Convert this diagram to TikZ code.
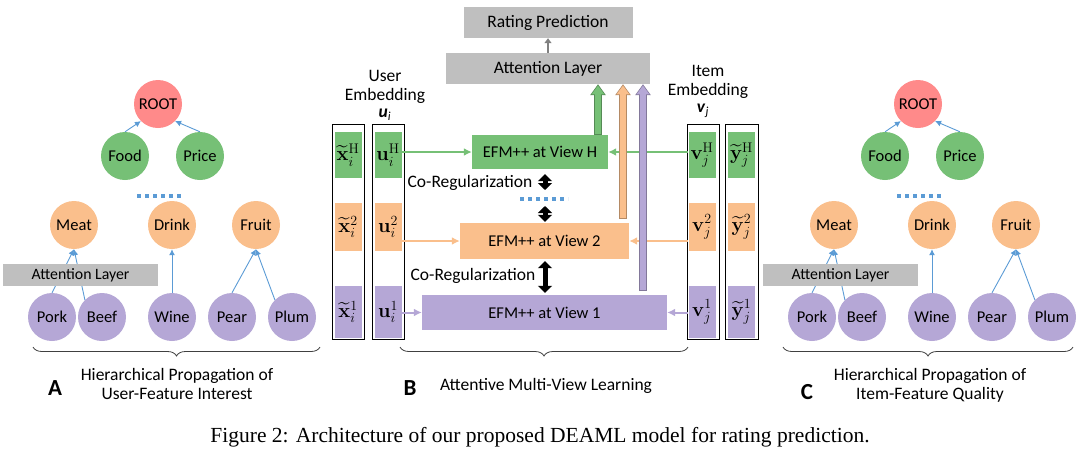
\RequirePackage{fix-cm}
\documentclass[tikz,border=0pt]{standalone}
\usepackage{amsmath}
\usepackage[no-math]{fontspec}
\setmainfont{Carlito}
\newfontfamily\captionfont{Liberation Serif}
\usetikzlibrary{arrows.meta,decorations.pathreplacing,positioning}

\definecolor{rootred}{RGB}{255,138,138}
\definecolor{viewgreen}{RGB}{118,192,118}
\definecolor{vieworange}{RGB}{250,191,140}
\definecolor{viewpurple}{RGB}{181,167,214}
\definecolor{layergray}{RGB}{191,191,191}
\definecolor{treeblue}{RGB}{91,155,213}

\newcommand{\fsz}[1]{\fontsize{#1}{#1}\selectfont}

\tikzset{
  feat/.style={circle, minimum size=48pt, inner sep=0pt, font=\fsz{16.5}},
  layer/.style={fill=layergray, inner sep=0pt, font=\fsz{17.5}},
  efm/.style={inner sep=0pt, font=\fsz{16.5}},
  column/.style={draw=black, line width=0.8pt, minimum width=32pt, minimum height=215pt, inner sep=0pt},
  cell/.style={minimum width=27pt, inner sep=0pt, font=\fsz{20}},
  tlink/.style={treeblue, line width=0.9pt, -{Latex[length=6pt,width=6pt]}},
  vlink/.style={#1, line width=2pt, -{Latex[length=8pt,width=8pt]}},
  fatup/.style={draw=#1!72!black, line width=8.4pt, -{Triangle[width=15pt,length=11pt]},
    postaction={draw=#1, line width=6.4pt, shorten <=1pt, shorten >=1.3pt, -{Triangle[width=12.2pt,length=8.8pt]}}},
  coreg/.style={black, line width=5pt, {Triangle[width=14pt,length=7pt]}-{Triangle[width=14pt,length=7pt]}},
  dotrow/.style={treeblue, line width=3.5pt, dash pattern=on 4pt off 4pt},
  lbrace/.style={decorate, decoration={brace, mirror, amplitude=9pt}, line width=0.8pt, black!75},
  label/.style={font=\fontsize{17.5}{19}\selectfont, align=center}
}

\begin{document}
\begin{tikzpicture}[x=1pt, y=-1pt]
\useasboundingbox (0,0) rectangle (1080,451);

% feature trees, left for users and right for items
\foreach \s/\dx in {L/0,R/760}{
  \begin{scope}[shift={(\dx,0)}]
    \node[feat, fill=rootred] (\s-root) at (158,104) {ROOT};
    \node[feat, fill=viewgreen] (\s-food) at (125,156) {Food};
    \node[feat, fill=viewgreen] (\s-price) at (200,156) {Price};
    \node[feat, fill=vieworange] (\s-meat) at (74,225) {Meat};
    \node[feat, fill=vieworange] (\s-drink) at (172,225) {Drink};
    \node[feat, fill=vieworange] (\s-fruit) at (256,225) {Fruit};
    \node[feat, fill=viewpurple] (\s-pork) at (52,317) {Pork};
    \node[feat, fill=viewpurple] (\s-beef) at (102,317) {Beef};
    \node[feat, fill=viewpurple] (\s-wine) at (172,317) {Wine};
    \node[feat, fill=viewpurple] (\s-pear) at (232,317) {Pear};
    \node[feat, fill=viewpurple] (\s-plum) at (292,317) {Plum};
    \draw[tlink] (\s-food.north) -- (\s-root.south west);
    \draw[tlink] (\s-price.north) -- (\s-root.south east);
    \draw[tlink] (\s-pork.north) -- (\s-meat.south);
    \draw[tlink] (\s-beef.north west) -- (\s-meat.south);
    \draw[tlink] (\s-wine.north) -- (\s-drink.south);
    \draw[tlink] (\s-pear.north) -- (\s-fruit.south);
    \draw[tlink] (\s-plum.north west) -- (\s-fruit.south);
    \draw[dotrow] (137,196) -- (183,196);
    \node[layer, font=\fsz{15.8}, minimum width=155pt, minimum height=22pt] (\s-att) at (80.5,275) {Attention Layer};
  \end{scope}
}

% multi-view part
\node[layer, minimum width=169pt, minimum height=31pt] (rating) at (548,22.5) {Rating Prediction};
\node[layer, minimum width=204pt, minimum height=31pt] (att) at (548,68.5) {Attention Layer};
\draw[gray, line width=1.8pt, -{Triangle[width=7pt,length=5pt]}] (att) -- (rating);

\foreach \v/\vy/\vh/\vc in {H/155/46/viewgreen, 2/227/48/vieworange, 1/312/52/viewpurple}{
  \node[cell, fill=\vc, minimum height=\vh pt] (x\v) at (348,\vy) {$\widetilde{\mathbf{x}}^{\mathrm{\v}}_{i}$};
  \node[cell, fill=\vc, minimum height=\vh pt] (u\v) at (388,\vy) {$\mathbf{u}^{\mathrm{\v}}_{i}$};
  \node[cell, fill=\vc, minimum height=\vh pt] (v\v) at (702,\vy) {$\mathbf{v}^{\mathrm{\v}}_{j}$};
  \node[cell, fill=\vc, minimum height=\vh pt] (y\v) at (741.5,\vy) {$\widetilde{\mathbf{y}}^{\mathrm{\v}}_{j}$};
}
\node[column] (xcol) at (348,231.5) {};
\node[column] (ucol) at (388,231.5) {};
\node[column] (vcol) at (703,231.5) {};
\node[column, minimum width=33pt] (ycol) at (741.5,231.5) {};

\node[label] (uemb) at (385,87) {User\\Embedding};
\node[label] (ulab) at (385,115) {\textbf{\textit{u}}\textsubscript{\textit{i}}};
\node[label] (vemb) at (708,82) {Item\\Embedding};
\node[label] (vlab) at (703,111) {\textbf{\textit{v}}\textsubscript{\textit{j}}};

\node[efm, fill=viewgreen, minimum width=136pt, minimum height=34pt] (efmH) at (540,152) {EFM++ at View H};
\node[efm, fill=vieworange, minimum width=169pt, minimum height=36pt] (efm2) at (544.5,241) {EFM++ at View 2};
\node[efm, fill=viewpurple, minimum width=245pt, minimum height=35pt] (efm1) at (544.5,312.5) {EFM++ at View 1};

\draw[vlink=viewgreen] (uH.east |- efmH) -- (efmH);
\draw[vlink=viewgreen] (vH.west |- efmH) -- (efmH);
\draw[vlink=vieworange] (u2.east |- efm2) -- (efm2);
\draw[vlink=vieworange] (v2.west |- efm2) -- (efm2);
\draw[vlink=viewpurple] (u1.east |- efm1) -- (efm1);
\draw[vlink=viewpurple] (v1.west |- efm1) -- (efm1);

% co-regularization between views
\coordinate (cx) at (545,0);
\coordinate (mdots) at (545,199);
\draw[dotrow] (520,199) -- (568,199);
\draw[coreg, shorten <=5pt, shorten >=9pt] (efmH.south -| cx) -- (mdots);
\draw[coreg, shorten <=7pt, shorten >=1pt] (mdots) -- (efm2.north -| cx);
\draw[coreg, shorten <=2pt, shorten >=2pt] (efm2.south -| cx) -- (efm1.north -| cx);
\node[label] (creg1) at (470,183) {Co-Regularization};
\node[label] (creg2) at (473,276) {Co-Regularization};

% views up to the attention layer
\coordinate (gfoot) at (598,135);
\coordinate (ofoot) at (623,219);
\coordinate (pfoot) at (643,291);
\draw[fatup=viewgreen] (gfoot) -- (att.south -| gfoot);
\draw[fatup=vieworange] (ofoot) -- (att.south -| ofoot);
\draw[fatup=viewpurple] (pfoot) -- (att.south -| pfoot);

% braces and panel labels
\draw[lbrace] (33,347) -- (320,347);
\draw[lbrace] (400,347) -- (688,347);
\draw[lbrace] (783,347) -- (1073,347);
\node[font=\bfseries\fsz{23}] (lblA) at (55,388) {A};
\node[label] (capA) at (177,384) {Hierarchical Propagation of\\User-Feature Interest};
\node[font=\bfseries\fsz{23}] (lblB) at (410,388) {B};
\node[label] (capB) at (546,386) {Attentive Multi-View Learning};
\node[font=\bfseries\fsz{23}] (lblC) at (807,392) {C};
\node[label] (capC) at (930,385) {Hierarchical Propagation of\\Item-Feature Quality};

\node[font=\captionfont\fsz{21.5}] (figcap) at (540,437) {Figure 2: Architecture of our proposed DEAML model for rating prediction.};
\end{tikzpicture}
\end{document}
